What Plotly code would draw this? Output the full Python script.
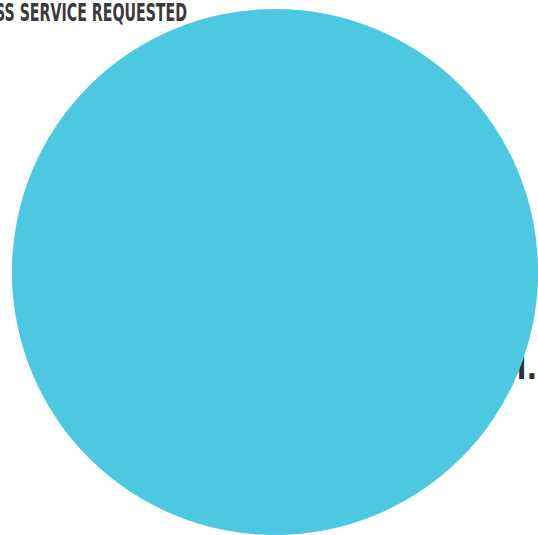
import plotly.graph_objects as go

# Data
slice_labels = ["sticker"]
slice_values = [1]
slice_colors = ["#4DC8E1"]

header_text = "SS SERVICE REQUESTED"
side_text = ["ll."]
side_x = [537]
side_y = [371]

W, H = 538, 535

fig = go.Figure()

# text partially hidden behind the disc (cartesian layer is below the pie layer)
fig.add_trace(go.Scatter(
    x=side_x, y=side_y, text=side_text, mode="text",
    textposition="middle left",
    textfont=dict(family="DejaVu Sans Condensed", size=31, color="#2e2e2e", weight="bold"),
    hoverinfo="skip", showlegend=False,
))

fig.add_trace(go.Pie(
    labels=slice_labels, values=slice_values,
    marker=dict(colors=slice_colors, line=dict(width=0)),
    textinfo="none", hoverinfo="skip", sort=False, showlegend=False,
    domain=dict(x=[12 / W, 1.0], y=[0.0, 526 / H]),
))

fig.add_annotation(
    text=header_text, xref="paper", yref="paper",
    x=187 / W, y=1 - 13.5 / H, xanchor="right", yanchor="middle",
    showarrow=False,
    font=dict(family="Liberation Sans Narrow, DejaVu Sans Condensed, sans-serif",
              size=24, color="#3a3a3a", weight="bold"),
)

fig.update_layout(
    width=W, height=H,
    margin=dict(l=0, r=0, t=0, b=0),
    paper_bgcolor="#ffffff", plot_bgcolor="rgba(0,0,0,0)",
    xaxis=dict(range=[0, W], visible=False, fixedrange=True),
    yaxis=dict(range=[H, 0], visible=False, fixedrange=True),
    showlegend=False,
)

post = """
document.body.style.margin = '0';
document.body.style.overflow = 'hidden';
var t = document.querySelector('.annotation-text');
if (t) {
  t.setAttribute('textLength', '192');
  t.setAttribute('lengthAdjust', 'spacingAndGlyphs');
  var r = t.getBoundingClientRect();
  var dx = 187 - r.right;
  t.setAttribute('transform', 'translate(' + dx + ',0)');
}
"""

fig.write_html("out.html", post_script=post, config={"staticPlot": True})
